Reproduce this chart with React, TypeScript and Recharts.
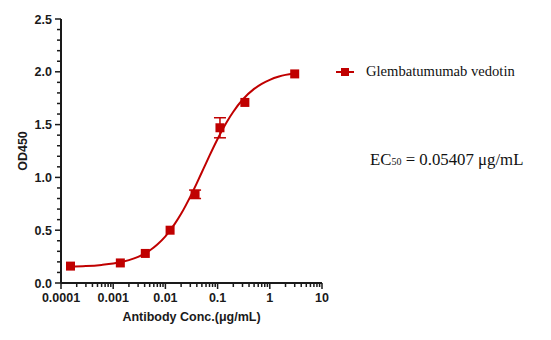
import { ComposedChart, Line, Scatter, XAxis, YAxis, ErrorBar } from "recharts";

const RED = "#C00000";
const INK = "#1A1A1A";

// measured points (µg/mL, OD450)
const conc = [0.000152, 0.00137, 0.00412, 0.0123, 0.037, 0.111, 0.333, 3];
const od = [0.16, 0.19, 0.28, 0.5, 0.84, 1.47, 1.71, 1.98];
const sd = [0, 0, 0, 0, 0.04, 0.095, 0, 0];

// fitted curve
const curveX = [0.00015, 0.0003, 0.0006, 0.001, 0.002, 0.003, 0.005, 0.007, 0.01, 0.015, 0.02, 0.03, 0.04, 0.054, 0.07, 0.1, 0.15, 0.2, 0.3, 0.5, 0.7, 1, 1.5, 2, 3];
const curveY = [0.155, 0.16, 0.171, 0.184, 0.217, 0.248, 0.308, 0.365, 0.442, 0.557, 0.655, 0.818, 0.946, 1.085, 1.206, 1.364, 1.525, 1.622, 1.735, 1.838, 1.886, 1.924, 1.955, 1.971, 1.987];

const xMajor = [0.0001, 0.001, 0.01, 0.1, 1, 10];
const xMinorMult = [2, 3, 4, 5, 6, 7, 8, 9];
const xLabels = ["0.0001", "0.001", "0.01", "0.1", "1", "10"];
const yMajor = [0, 0.5, 1, 1.5, 2, 2.5];
const yLabels = ["0.0", "0.5", "1.0", "1.5", "2.0", "2.5"];

const points = conc.map((x, i) => ({ x, y: od[i], err: sd[i] }));
const curve = curveX.map((x, i) => ({ x, y: curveY[i] }));

const xTicks = [
  ...xMajor,
  ...xMajor.slice(0, -1).flatMap((d) => xMinorMult.map((m) => +(d * m).toPrecision(3))),
].sort((a, b) => a - b);
const yTicks = Array.from({ length: 26 }, (_, i) => +(i * 0.1).toFixed(1));

const tickFont = { fontFamily: "Liberation Sans, Arial, sans-serif", fontWeight: 700, fontSize: 12.5 };
const serif = "Liberation Serif, Times New Roman, serif";

function XTick({ x, y, payload }: any) {
  const i = xMajor.findIndex((v) => Math.abs(v - payload.value) / v < 1e-6);
  const major = i >= 0;
  return (
    <g>
      <line x1={x} x2={x} y1={y} y2={y + (major ? 6 : 4)} stroke={INK} strokeWidth={1.5} />
      {major && (
        <text x={x} y={y + 19} textAnchor="middle" fill={INK} style={tickFont}>{xLabels[i]}</text>
      )}
    </g>
  );
}

function YTick({ x, y, payload }: any) {
  const i = yMajor.findIndex((v) => Math.abs(v - payload.value) < 1e-6);
  const major = i >= 0;
  return (
    <g>
      <line x1={x} x2={x - (major ? 6 : 4)} y1={y} y2={y} stroke={INK} strokeWidth={1.5} />
      {major && (
        <text x={x - 9} y={y + 4.5} textAnchor="end" fill={INK} style={tickFont}>{yLabels[i]}</text>
      )}
    </g>
  );
}

const Square = ({ cx, cy }: any) => <rect x={cx - 4.5} y={cy - 4.5} width={9} height={9} fill={RED} />;

export default function App() {
  return (
    <div style={{ position: "absolute", left: 0, top: 0, width: 551, height: 340, background: "#fff" }}>
      <ComposedChart width={551} height={340} margin={{ top: 19, right: 229, bottom: 0, left: 0 }}>
        <XAxis
          type="number" dataKey="x" scale="log" domain={[0.0001, 10]} allowDataOverflow
          ticks={xTicks} interval={0} tick={<XTick />} tickLine={false} tickSize={0} tickMargin={0}
          axisLine={{ stroke: INK, strokeWidth: 2 }} height={57}
          label={{ value: "Antibody Conc.(μg/mL)", position: "insideBottom", offset: 19, style: { ...tickFont, fill: INK } }}
        />
        <YAxis
          type="number" dataKey="y" domain={[0, 2.5]} ticks={yTicks} interval={0}
          tick={<YTick />} tickLine={false} tickSize={0} tickMargin={0} axisLine={{ stroke: INK, strokeWidth: 2 }} width={61}
          label={{ value: "OD450", angle: -90, position: "insideLeft", offset: 23, style: { ...tickFont, fill: INK, textAnchor: "middle" } }}
        />
        <Line data={curve} dataKey="y" type="monotone" stroke={RED} strokeWidth={2} dot={false} isAnimationActive={false} />
        <Scatter data={points} dataKey="y" fill={RED} shape={<Square />} isAnimationActive={false} name="Glembatumumab vedotin">
          <ErrorBar dataKey="err" direction="y" width={6} stroke={RED} strokeWidth={1.5} />
        </Scatter>
      </ComposedChart>
      <div style={{ position: "absolute", left: 335, top: 63, display: "flex", alignItems: "center", fontFamily: serif, fontSize: 14.6, color: "#111", whiteSpace: "nowrap" }}>
        <svg width={20} height={10} style={{ marginRight: 11 }}>
          <line x1={1} x2={19} y1={5} y2={5} stroke={RED} strokeWidth={2} />
          <rect x={6} y={1} width={8} height={8} fill={RED} />
        </svg>
        Glembatumumab vedotin
      </div>
      <div style={{ position: "absolute", left: 370, top: 150, fontFamily: serif, fontSize: 16.8, color: "#111", whiteSpace: "nowrap" }}>
        EC<span style={{ fontSize: 10 }}>50</span> = 0.05407 μg/mL
      </div>
    </div>
  );
}
